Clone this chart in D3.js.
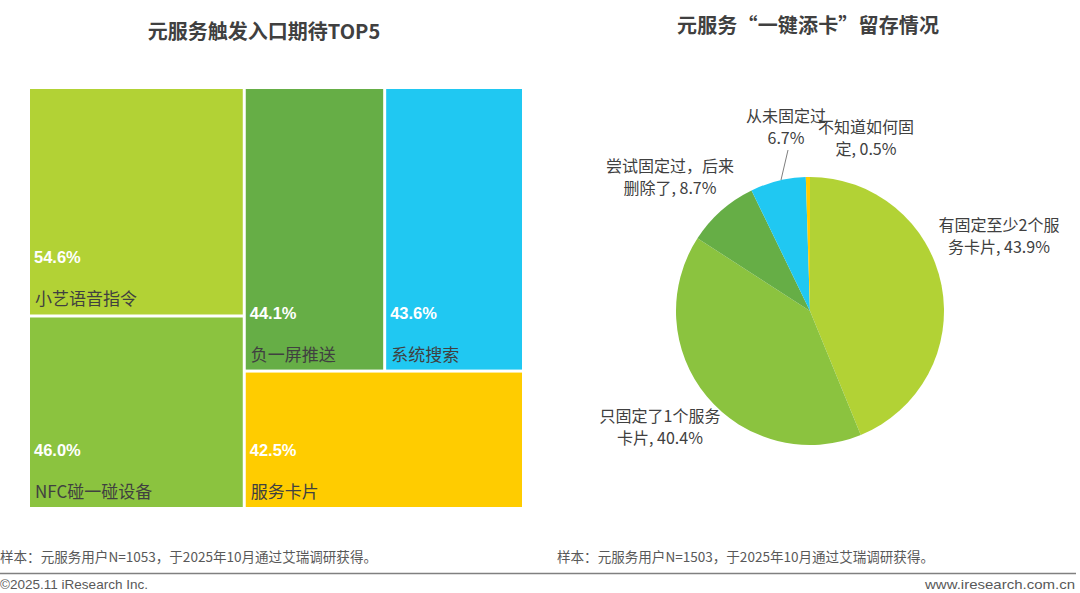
<!DOCTYPE html>
<html><head><meta charset="utf-8">
<script src="https://cdn.jsdelivr.net/npm/d3@7"></script>
<style>
html,body{margin:0;padding:0;background:#fff;}
svg{display:block;font-family:"Noto Sans CJK SC","Noto Sans",sans-serif;}
</style></head>
<body><svg id="c" width="1080" height="593"></svg>
<script>
// Treemap data
const tmCategories = ["小艺语音指令","NFC碰一碰设备","负一屏推送","系统搜索","服务卡片"];
const tmValues = [54.6, 46.0, 44.1, 43.6, 42.5];
const tmColors = ["#B2D235","#8BC33F","#66AE46","#20C8F2","#FFCC00"];
// Pie data
const pieCategories = ["有固定至少2个服务卡片","只固定了1个服务卡片","尝试固定过，后来删除了","从未固定过","不知道如何固定"];
const pieValues = [43.9, 40.4, 8.7, 6.7, 0.5];
const pieColors = ["#B2D235","#8BC33F","#66AE46","#20C8F2","#FFCC00"];
const pieLabelLines = [
  ["有固定至少2个服","务卡片, 43.9%"],
  ["只固定了1个服务","卡片, 40.4%"],
  ["尝试固定过，后来","删除了, 8.7%"],
  ["从未固定过","6.7%"],
  ["不知道如何固","定, 0.5%"]
];

const svg = d3.select("#c");
const textDark = "#404040";

// Titles
svg.append("text").attr("x",264).attr("y",39).attr("text-anchor","middle")
  .attr("font-size",20).attr("font-weight","bold").attr("fill",textDark)
  .text("元服务触发入口期待TOP5");
svg.append("text").attr("x",808).attr("y",33).attr("text-anchor","middle")
  .attr("font-size",20).attr("font-weight","bold").attr("fill",textDark)
  .attr("textLength",262).attr("lengthAdjust","spacing")
  .text("元服务“一键添卡”留存情况");

// ---- Treemap ----
const leaves = tmCategories.map((c,i)=>({name:c, value:tmValues[i], color:tmColors[i]}));
const treeData = {children:[
  {children:[leaves[0], leaves[1]]},
  {children:[{children:[leaves[2], leaves[3]]}, leaves[4]]}
]};
const root = d3.hierarchy(treeData).sum(d=>d.value||0);
d3.treemap().tile(d3.treemapSliceDice).size([492,418]).paddingInner(3).round(false)(root);
const tg = svg.append("g").attr("transform","translate(30,89)");
const cells = tg.selectAll("g.cell").data(root.leaves()).join("g").attr("class","cell")
  .attr("transform",d=>`translate(${d.x0},${d.y0})`);
cells.append("rect").attr("width",d=>d.x1-d.x0).attr("height",d=>d.y1-d.y0)
  .attr("fill",d=>d.data.color);
cells.append("text").attr("x",4).attr("y",d=>d.y1-d.y0-51)
  .attr("font-size",16.5).attr("font-weight","bold").attr("fill","#fff")
  .attr("font-family","Arial,'Liberation Sans',sans-serif")
  .text(d=>d.data.value.toFixed(1)+"%");
cells.append("text").attr("x",5).attr("y",d=>d.y1-d.y0-9)
  .attr("font-size",17).attr("fill",textDark)
  .text(d=>d.data.name);

// ---- Pie ----
const cx=810, cy=311, R=134;
const pie = d3.pie().sort(null).value(d=>d)(pieValues);
const arc = d3.arc().innerRadius(0).outerRadius(R);
const pg = svg.append("g").attr("transform",`translate(${cx},${cy})`);
pg.selectAll("path").data(pie).join("path").attr("d",arc)
  .attr("fill",(d,i)=>pieColors[i]);

const labelPos = [[999,231,22],[660,422,22],[670,172,22],[786,122,22],[866,133,22]];
pieLabelLines.forEach((lines,i)=>{
  lines.forEach((l,j)=>{
    svg.append("text").attr("text-anchor","middle").attr("font-size",16).attr("fill",textDark)
      .attr("x",labelPos[i][0]).attr("y",labelPos[i][1]+j*labelPos[i][2]).text(l);
  });
});
// leader line for 6.7%
svg.append("line").attr("x1",788).attr("y1",150).attr("x2",781).attr("y2",180)
  .attr("stroke","#7f7f7f").attr("stroke-width",1);

// ---- Footer ----
const foot = "#595959";
svg.append("text").attr("x",0).attr("y",562).attr("font-size",13.5).attr("fill",foot)
  .attr("textLength",377).attr("lengthAdjust","spacingAndGlyphs")
  .text("样本：元服务用户N=1053，于2025年10月通过艾瑞调研获得。");
svg.append("text").attr("x",557).attr("y",562).attr("font-size",13.5).attr("fill",foot)
  .attr("textLength",377).attr("lengthAdjust","spacingAndGlyphs")
  .text("样本：元服务用户N=1503，于2025年10月通过艾瑞调研获得。");
svg.append("line").attr("x1",0).attr("x2",1076).attr("y1",573.5).attr("y2",573.5)
  .attr("stroke","#808080").attr("stroke-width",1.5);
svg.append("text").attr("x",0).attr("y",589).attr("font-size",13.5).attr("fill",foot)
  .attr("font-family","Arial,'Liberation Sans',sans-serif")
  .attr("textLength",148).attr("lengthAdjust","spacingAndGlyphs")
  .text("©2025.11 iResearch Inc.");
svg.append("text").attr("x",1075).attr("y",589).attr("text-anchor","end").attr("font-size",13.5).attr("fill",foot)
  .attr("font-family","Arial,'Liberation Sans',sans-serif")
  .attr("textLength",150).attr("lengthAdjust","spacingAndGlyphs")
  .text("www.iresearch.com.cn");
</script></body></html>
